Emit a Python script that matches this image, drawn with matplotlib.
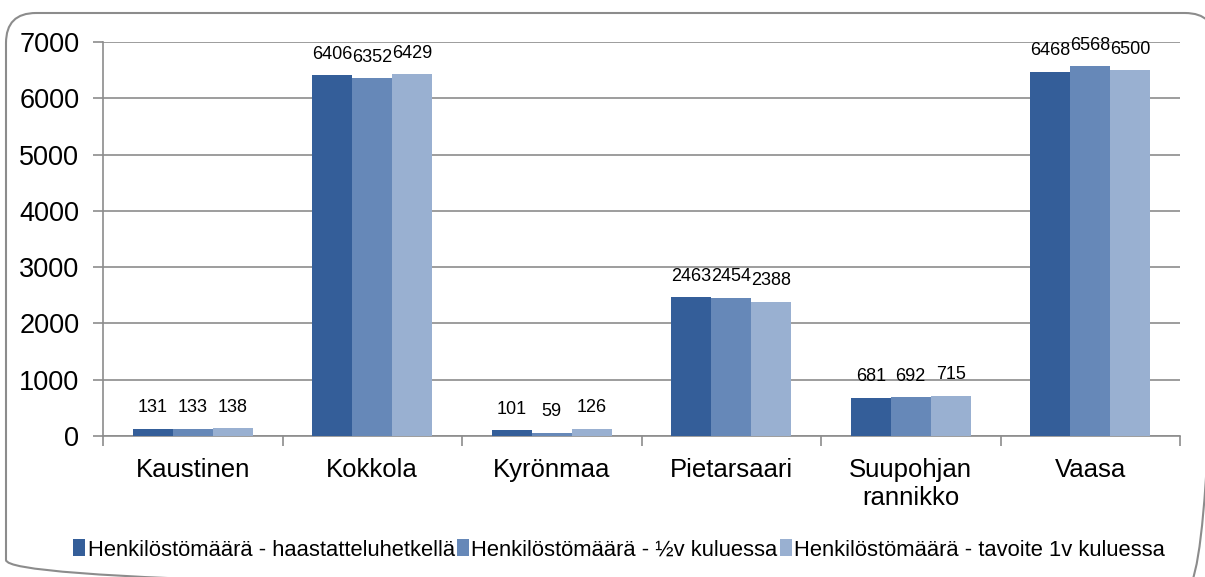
import matplotlib
matplotlib.use("Agg")
import matplotlib.pyplot as plt
import numpy as np
from matplotlib.patches import FancyBboxPatch

categories = ["Kaustinen", "Kokkola", "Kyrönmaa", "Pietarsaari", "Suupohjan\nrannikko", "Vaasa"]
series_names = ["Henkilöstömäärä - haastatteluhetkellä",
                "Henkilöstömäärä - ½v kuluessa",
                "Henkilöstömäärä - tavoite 1v kuluessa"]
s1 = [131, 6406, 101, 2463, 681, 6468]
s2 = [133, 6352, 59, 2454, 692, 6568]
s3 = [138, 6429, 126, 2388, 715, 6500]
colors = ["#345E99", "#6688B8", "#99B0D1"]
yticks = [0, 1000, 2000, 3000, 4000, 5000, 6000, 7000]

plt.rcParams['font.family'] = ['Liberation Sans', 'DejaVu Sans']

fig = plt.figure(figsize=(12.05, 5.77), dpi=100)

# background axes in pixel units for the rounded border
bg = fig.add_axes([0, 0, 1, 1], zorder=-1)
bg.set_xlim(0, 1205)
bg.set_ylim(577, 0)
bg.axis("off")
bg.add_patch(FancyBboxPatch((6, 13), 1215 - 6, 590 - 13,
                            boxstyle="round,pad=0,rounding_size=30",
                            facecolor="none", edgecolor="#8C8C8C", linewidth=1.5))

ax = fig.add_axes([103/1205, 1-436/577, (1180-103)/1205, (436-42)/577])
ax.patch.set_alpha(0)

x = np.arange(len(categories))
w = 0.222
grid_c = "#8C8C8C"
for i, (vals, c, name) in enumerate(zip([s1, s2, s3], colors, series_names)):
    bars = ax.bar(x + (i-1)*w, vals, width=w, color=c, label=name, zorder=3)
    for b, v in zip(bars, vals):
        ax.annotate(str(v), (b.get_x()+b.get_width()/2, v), xytext=(0, 9),
                    textcoords="offset points", ha="center", va="bottom",
                    fontsize=13, zorder=4)

ax.set_xlim(-0.5, len(categories)-0.5)
ax.set_ylim(0, 7000)
ax.set_yticks(yticks)
ax.set_yticklabels([str(t) for t in yticks], fontsize=19.5)
ax.yaxis.grid(True, color=grid_c, linewidth=1.2, zorder=0)
ax.set_axisbelow(True)
ax.set_xticks(x)
ax.set_xticklabels(categories, fontsize=18.5)
ax.tick_params(axis='x', length=0, pad=16)
ax.set_xticks(np.arange(-0.5, len(categories)), minor=True)
ax.tick_params(axis='x', which='minor', length=7, color=grid_c, width=1.2, direction='out')
ax.tick_params(axis='y', length=7, color=grid_c, width=1.2, direction='out', pad=10)
for s in ["top", "right"]:
    ax.spines[s].set_visible(False)
for s in ["left", "bottom"]:
    ax.spines[s].set_color(grid_c)
    ax.spines[s].set_linewidth(1.2)

leg = fig.legend(loc="center", bbox_to_anchor=(619/1205, 1-550/577), ncol=3, frameon=False,
                 fontsize=15.8, handlelength=0.55, handleheight=0.8, handletextpad=0.1,
                 columnspacing=0.1, borderpad=0)

fig.savefig("out.png", dpi=100)
